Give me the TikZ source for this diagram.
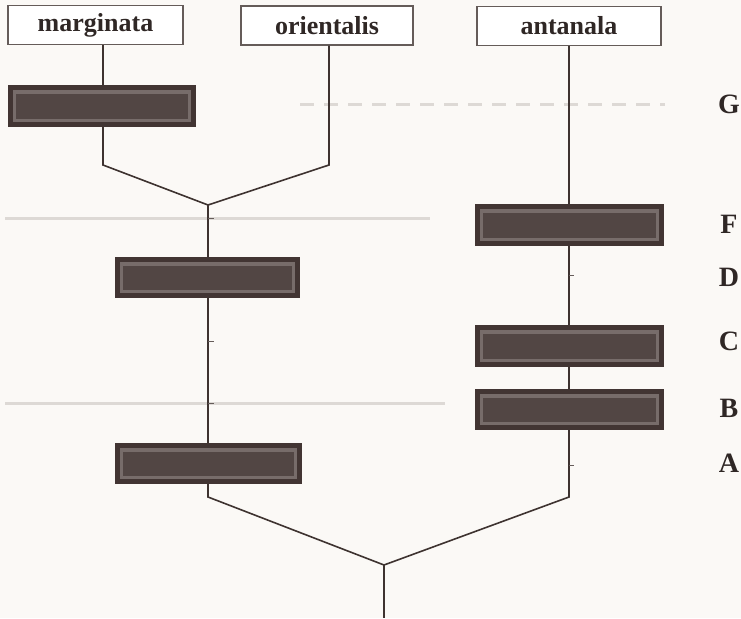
\documentclass[tikz,border=0pt]{standalone}
\usepackage{fontspec}
\setmainfont{Liberation Serif}
\definecolor{bg}{HTML}{FBF9F6}
\definecolor{ink}{HTML}{3E3330}
\definecolor{txt}{HTML}{2F2725}
\definecolor{boxdark}{HTML}{423533}
\definecolor{boxmid}{HTML}{776C6A}
\definecolor{boxcoreB}{HTML}{524644}
\definecolor{faint}{HTML}{DDD9D5}
\tikzset{
  taxon/.style={draw=ink!80, line width=1.2pt, fill=white, rectangle, inner sep=0pt,
    font=\fontsize{26}{28}\selectfont\bfseries, text=txt},
  darkbox/.style={rectangle, fill=boxdark, inner sep=0pt, minimum height=41pt,
    path picture={
      \fill[boxmid] ([shift={(5pt,-5pt)}]path picture bounding box.north west) rectangle ([shift={(-5pt,5pt)}]path picture bounding box.south east);
      \fill[boxcoreB] ([shift={(8pt,-9pt)}]path picture bounding box.north west) rectangle ([shift={(-8pt,8pt)}]path picture bounding box.south east);
    }},
  lbl/.style={font=\fontsize{28}{30}\selectfont\bfseries, text=txt, inner sep=0pt},
  branch/.style={draw=ink, line width=1.6pt, line join=miter},
  tick/.style={draw=ink!80, line width=1pt},
  ghost/.style={draw=faint, line width=3pt},
}
\begin{document}
\begin{tikzpicture}[x=1pt, y=-1pt]
\fill[bg] (0,0) rectangle (741,618);
\useasboundingbox (0,0) rectangle (741,618);
% faint scan lines
\path[ghost] (5,218) -- (430,218);
\path[ghost] (5,403) -- (445,403);
\path[ghost, dash pattern=on 14pt off 10pt] (300,104) -- (665,104);
% taxa
\node[taxon, minimum width=175pt, minimum height=39pt] (mar) at (95.5,25) {marginata};
\node[taxon, minimum width=172pt, minimum height=39pt] (ori) at (327,25.5) {orientalis};
\node[taxon, minimum width=184pt, minimum height=39pt] (ant) at (569,26) {antanala};
% character boxes
\node[darkbox, minimum width=188pt, minimum height=42pt] (G) at (102,106) {};
\node[darkbox, minimum width=185pt] (D) at (207.5,277.5) {};
\node[darkbox, minimum width=187pt] (A) at (208,463.5) {};
\node[darkbox, minimum width=189pt, minimum height=42pt] (F) at (569.5,225) {};
\node[darkbox, minimum width=189pt, minimum height=42pt] (C) at (569.5,346) {};
\node[darkbox, minimum width=189pt] (B) at (569.5,409.5) {};
% labels
\node[lbl] (lG) at (729,104) {G};
\node[lbl] (lF) at (729,224) {F};
\node[lbl] (lD) at (729,277) {D};
\node[lbl] (lC) at (729,341) {C};
\node[lbl] (lB) at (729,408) {B};
\node[lbl] (lA) at (729,463) {A};
% junction coordinates
\coordinate (bl) at (103,165);
\coordinate (br) at (329,165);
\coordinate (j1) at (208,205);
\coordinate (al) at (208,497);
\coordinate (ar) at (569,497);
\coordinate (root) at (384,565);
\coordinate (base) at (384,618);
% branches
\path[branch] (mar.south -| bl) -- (G.north -| bl);
\path[branch] (G.south -| bl) -- (bl) -- (j1) -- (br) -- (ori.south -| br);
\path[branch] (j1) -- (D.north -| j1);
\path[branch] (D.south -| j1) -- (A.north -| j1);
\path[branch] (A.south -| al) -- (al) -- (root) -- (ar) -- (B.south -| ar);
\path[branch] (B.north -| ar) -- (C.south -| ar);
\path[branch] (C.north -| ar) -- (F.south -| ar);
\path[branch] (F.north -| ar) -- (ant.south -| ar);
\path[branch] (root) -- (base);
% small ticks
\path[tick] (208,218) -- (214,218);
\path[tick] (208,341) -- (214,341);
\path[tick] (208,403) -- (214,403);
\path[tick] (569,275) -- (574,275);
\path[tick] (569,465) -- (574,465);
\end{tikzpicture}
\end{document}
